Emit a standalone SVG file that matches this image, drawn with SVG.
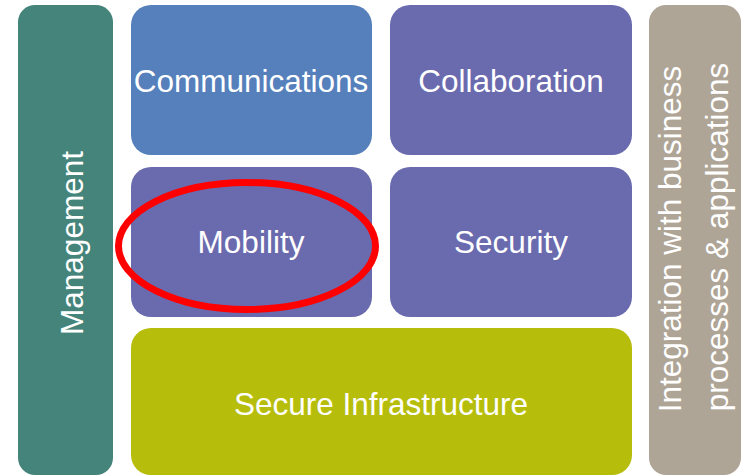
<svg xmlns="http://www.w3.org/2000/svg" width="746" height="476" viewBox="0 0 746 476">
<style>
.t{font-family:"Liberation Sans",Arial,sans-serif;font-size:31.5px;fill:#ffffff;text-anchor:middle}
.b{stroke:none}
</style>
<rect width="746" height="476" fill="#ffffff"/>
<g id="management"><rect class="b" x="18" y="5" width="95" height="470" rx="17" fill="#45847A"/><text class="t" transform="translate(83,243) rotate(-90)">Management</text></g>
<g id="communications"><rect class="b" x="131" y="5" width="241" height="150" rx="20" fill="#5580BB"/><text class="t" x="251" y="92">Communications</text></g>
<g id="collaboration"><rect class="b" x="390" y="5" width="242" height="150" rx="20" fill="#6A6AAE"/><text class="t" x="511" y="92">Collaboration</text></g>
<g id="mobility"><rect class="b" x="131" y="167" width="241" height="150" rx="20" fill="#6A6AAE"/><text class="t" x="251" y="253">Mobility</text></g>
<g id="security"><rect class="b" x="390" y="167" width="242" height="150" rx="20" fill="#6A6AAE"/><text class="t" x="511" y="253">Security</text></g>
<g id="infrastructure"><rect class="b" x="131" y="328" width="501" height="147" rx="20" fill="#B6BD0B"/><text class="t" x="381" y="415">Secure Infrastructure</text></g>
<g id="integration"><rect class="b" x="649" y="5" width="92" height="470" rx="17" fill="#AFA597"/><text class="t" transform="translate(681,239) rotate(-90)">Integration with business</text><text class="t" transform="translate(728,237) rotate(-90)">processes &amp; applications</text></g>
<g id="connectors"><ellipse id="highlight" cx="247" cy="246" rx="128.5" ry="63.5" fill="none" stroke="#FF0000" stroke-width="7"/></g>
</svg>
